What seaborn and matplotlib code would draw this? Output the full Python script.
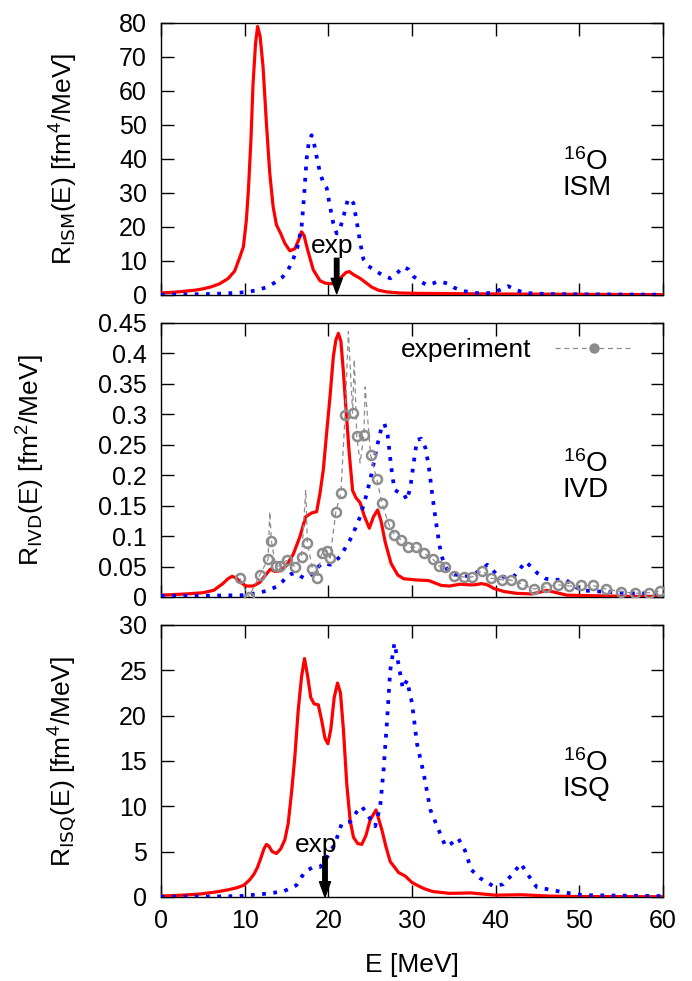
import numpy as np
import pandas as pd
import matplotlib
matplotlib.use("Agg")
import matplotlib.pyplot as plt
from matplotlib.lines import Line2D
from matplotlib.ticker import FuncFormatter, MultipleLocator
import seaborn as sns

# ---------------- data ----------------
# ISM panel
ism_red_E = [0, 2, 4, 5, 6, 7, 8, 8.8, 9.4, 9.85, 10.2, 10.45, 10.75, 11.0, 11.3, 11.55,
             11.85, 12.2, 12.6, 13.0, 13.4, 13.8, 14.3, 14.8, 15.4, 16.0, 16.5, 16.8, 17.1,
             17.5, 18.2, 19.0, 19.6, 20.4, 21.0, 21.6, 22.1, 22.5, 23.0, 23.8, 24.5, 25.2,
             26.0, 27.0, 28.5, 30, 35, 40, 50, 60]
ism_red_R = [0.6, 0.9, 1.4, 1.8, 2.4, 3.3, 4.8, 7.0, 11.0, 14.2, 22, 31, 45.6, 62, 74, 79,
             76, 67, 50.5, 35.8, 26, 20.6, 18.1, 15.2, 13.0, 13.6, 16.5, 18.6, 17.5,
             13.5, 7.4, 4.2, 3.5, 3.3, 3.8, 5.4, 6.6, 6.9, 6.0, 4.9, 3.6, 2.3,
             1.4, 0.9, 0.6, 0.5, 0.4, 0.3, 0.2, 0.1]
ism_blue_E = [0, 3, 6, 8, 10, 11.5, 12.5, 13.5, 14.5, 15.2, 15.8, 16.3, 16.8, 17.1, 17.4,
              17.7, 18.0, 18.3, 18.6, 19.0, 19.4, 19.8, 20.2, 20.6, 21.0, 21.4, 21.8, 22.3,
              22.6, 23.0, 23.4, 23.8, 24.2, 24.8, 25.5, 26.5, 27.4, 28.2, 29.0, 29.6, 30.2,
              31.0, 31.8, 32.5, 33.0, 33.6, 34.2, 35.0, 36.0, 38.0, 39.5, 40.5, 41.5, 42.3,
              43.5, 46, 50, 55, 60]
ism_blue_R = [0.1, 0.2, 0.3, 0.5, 0.8, 1.4, 2.2, 3.5, 5.2, 7.4, 10.5, 14, 20, 29, 40,
              45.5, 47, 44.5, 40.7, 36, 33, 31.5, 26, 21, 18.1, 19.5, 23, 27.8,
              28.4, 27, 21.5, 15.5, 10.5, 8.5, 7.3, 5.8, 4.9, 6.4, 8.3, 7.5, 5.4,
              4.0, 2.9, 3.4, 3.9, 3.8, 3.4, 2.2, 1.2, 0.5, 0.6, 1.5, 2.6, 1.6,
              0.6, 0.3, 0.2, 0.15, 0.1]

# IVD panel
ivd_red_E = [0, 3, 5, 6.3, 7.4, 8.0, 8.5, 9.0, 9.5, 10.2, 11.0, 11.8, 12.5, 13.1, 13.6,
             14.3, 15.0, 15.8, 16.6, 17.3, 18.0, 18.6, 19.0, 19.4, 19.8, 20.2, 20.6, 20.9,
             21.2, 21.5, 21.8, 22.1, 22.5, 22.9, 23.3, 23.8, 24.3, 24.9, 25.4, 25.9, 26.3,
             26.8, 27.5, 28.3, 29.0, 30.5, 32.0, 33.5, 34.5, 35.7, 36.8, 37.5, 38.3, 39.0,
             39.8, 41.0, 42.5, 44.3, 45.3, 46.1, 47.0, 48.5, 52, 56, 60]
ivd_red_R = [0.003, 0.005, 0.007, 0.011, 0.022, 0.030, 0.034, 0.031, 0.024, 0.018, 0.018,
             0.024, 0.036, 0.046, 0.042, 0.043, 0.052, 0.070, 0.099, 0.132, 0.138, 0.140,
             0.170, 0.209, 0.270, 0.329, 0.395, 0.422, 0.433, 0.420, 0.370, 0.310, 0.236,
             0.175, 0.163, 0.155, 0.133, 0.113, 0.132, 0.143, 0.125, 0.090, 0.055, 0.036,
             0.030, 0.028, 0.027, 0.019, 0.018, 0.021, 0.020, 0.020, 0.022, 0.020, 0.014,
             0.009, 0.006, 0.005, 0.008, 0.011, 0.008, 0.003, 0.002, 0.001, 0.001]
ivd_blue_E = [0, 5, 9.8, 11.8, 13.0, 13.8, 14.5, 15.0, 15.6, 16.2, 16.7, 17.1, 17.6, 18.2,
              18.7, 19.2, 19.7, 20.2, 20.7, 21.4, 22.0, 22.6, 23.2, 23.8, 24.4, 25.0, 25.5,
              25.9, 26.3, 26.7, 27.1, 27.5, 27.9, 28.4, 29.0, 29.4, 29.8, 30.2, 30.6, 31.1,
              31.6, 32.0, 32.5, 33.0, 33.5, 34.2, 35.0, 36.1, 37.3, 38.3, 39.0, 39.6, 40.3,
              41.2, 42.2, 43.0, 43.6, 44.2, 45.0, 46.0, 47.0, 48.3, 49.2, 50.2, 52.5, 56.5, 60]
ivd_blue_R = [0.002, 0.002, 0.003, 0.007, 0.012, 0.017, 0.025, 0.033, 0.038, 0.039,
              0.034, 0.031, 0.033, 0.039, 0.048, 0.055, 0.055, 0.053, 0.058, 0.066,
              0.080, 0.094, 0.112, 0.132, 0.160, 0.192, 0.225, 0.252, 0.275, 0.285,
              0.265, 0.215, 0.176, 0.172, 0.170, 0.159, 0.180, 0.220, 0.258, 0.260,
              0.245, 0.215, 0.160, 0.110, 0.068, 0.045, 0.038, 0.033, 0.037, 0.045,
              0.053, 0.045, 0.034, 0.033, 0.034, 0.048, 0.058, 0.050, 0.039, 0.030,
              0.028, 0.029, 0.020, 0.011, 0.009, 0.006, 0.006]

# experiment: measured points (circles) and extra fine-resolution points (spikes of the dashed line)
exp_pts_E = [9.4, 10.5, 11.8, 12.8, 13.2, 13.7, 14.2, 15.0, 16.0, 16.8, 17.5, 18.1, 18.7,
             19.2, 19.8, 20.2, 20.9, 21.5, 22.0, 22.9, 23.4, 24.25, 25.05, 25.8, 26.4,
             27.2, 27.9, 28.7, 29.5, 30.5, 31.4, 32.5, 33.2, 34.0, 35.0, 36.2, 37.2,
             38.4, 39.4, 40.8, 41.8, 43.2, 44.6, 46.0, 47.4, 48.8, 50.2, 51.6, 53.2,
             55.0, 56.6, 58.3, 59.7]
exp_pts_R = [0.031, 0.000, 0.036, 0.062, 0.092, 0.051, 0.051, 0.060, 0.050, 0.066, 0.089,
             0.046, 0.032, 0.072, 0.076, 0.064, 0.140, 0.171, 0.299, 0.302, 0.264, 0.266,
             0.233, 0.193, 0.155, 0.120, 0.102, 0.094, 0.082, 0.082, 0.072, 0.062, 0.051,
             0.050, 0.034, 0.033, 0.033, 0.043, 0.031, 0.028, 0.028, 0.021, 0.013, 0.017,
             0.020, 0.018, 0.019, 0.019, 0.013, 0.009, 0.006, 0.007, 0.010]
exp_fine_E = [13.0, 17.3, 22.4, 23.1, 23.8, 24.4]
exp_fine_R = [0.140, 0.176, 0.436, 0.390, 0.220, 0.345]

# ISQ panel
isq_red_E = [0, 2.5, 4.7, 6.5, 7.9, 9.0, 9.9, 10.6, 11.1, 11.5, 11.9, 12.3, 12.6, 12.9,
             13.3, 13.8, 14.3, 14.8, 15.2, 15.6, 16.0, 16.4, 16.8, 17.15, 17.5, 17.9, 18.3,
             18.8, 19.2, 19.6, 19.95, 20.3, 20.7, 21.1, 21.45, 21.8, 22.2, 22.6, 23.0, 23.5,
             24.0, 24.5, 25.0, 25.7, 26.4, 26.9, 27.4, 28.4, 29.2, 30.0, 30.6, 31.5, 32.5,
             34.5, 37.0, 40.0, 43.0, 46.5, 50, 60]
isq_red_R = [0.1, 0.2, 0.33, 0.55, 0.77, 1.0, 1.3, 1.9, 2.5, 3.2, 4.2, 5.3, 5.8, 5.6,
             5.0, 4.8, 5.3, 6.3, 8.1, 11.5, 15.5, 20.6, 24.3, 26.3, 24.5, 22.0, 21.3,
             21.2, 19.5, 17.5, 16.9, 18.5, 22.0, 23.6, 22.5, 18.5, 12.5, 8.5, 6.6, 5.9,
             5.8, 6.8, 8.5, 9.6, 7.4, 5.5, 3.9, 2.7, 2.3, 1.6, 1.3, 0.9, 0.6,
             0.4, 0.45, 0.2, 0.25, 0.1, 0.05, 0.03]
isq_blue_E = [0, 4.7, 9.4, 12.2, 14.6, 16.2, 17.2, 18.2, 19.0, 19.8, 20.8, 21.6, 22.6, 23.4,
              24.0, 24.8, 25.6, 26.2, 26.6, 27.0, 27.4, 27.9, 28.4, 28.9, 29.4, 30.0, 30.6,
              31.4, 32.2, 33.0, 34.0, 34.7, 35.5, 36.3, 37.1, 38.1, 39.7, 40.9, 42.1, 43.0,
              43.9, 44.9, 46.5, 48.9, 50.5, 60]
isq_blue_R = [0.04, 0.04, 0.1, 0.33, 0.6, 1.3, 2.8, 3.3, 3.3, 4.3, 5.9, 8.1, 8.3, 9.4,
              10.0, 8.9, 7.8, 10.0, 14.0, 19.2, 25.0, 28.0, 25.6, 23.0, 23.9, 21.4, 16.9,
              13.6, 9.6, 7.8, 5.6, 5.9, 6.5, 5.2, 3.0, 2.1, 1.2, 1.4, 2.6, 3.7,
              2.4, 1.1, 0.8, 0.4, 0.2, 0.1]

panel_ylabels = [r"R$_{\rm ISM}$(E) [fm$^{4}$/MeV]",
                 r"R$_{\rm IVD}$(E) [fm$^{2}$/MeV]",
                 r"R$_{\rm ISQ}$(E) [fm$^{4}$/MeV]"]
panel_names = ["ISM", "IVD", "ISQ"]
ylims = [(0, 80), (0, 0.45), (0, 30)]
ysteps = [10, 0.05, 5]
xticks = [0, 10, 20, 30, 40, 50, 60]
exp_arrows = {0: (21.0, 10.8, 0.4, 20.5, 12.3), 2: (19.6, 4.45, 0.0, 18.5, 5.0)}
nucleus_label_pos = [(48.0, 29.4), (48.0, 0.165), (48.0, 11.1)]

# ---------------- style ----------------
sns.set_theme(style="ticks")
plt.rcParams["font.family"] = ["Liberation Sans", "DejaVu Sans"]
plt.rcParams["mathtext.default"] = "regular"
plt.rcParams["axes.linewidth"] = 1.0
for key in ["text.color", "axes.labelcolor", "xtick.color", "ytick.color",
            "xtick.labelcolor", "ytick.labelcolor", "axes.edgecolor"]:
    plt.rcParams[key] = "black"

RED = "#ff0000"
BLUE = "#0000ff"
GREY = "#8c8c8c"

fig = plt.figure(figsize=(6.92, 9.81), dpi=100)
W, H = 692.0, 981.0
left_px, right_px = 161, 663
panel_px = [(23, 295), (323, 597), (625, 897)]
axes = []
for top, bot in panel_px:
    ax = fig.add_axes([left_px / W, 1 - bot / H, (right_px - left_px) / W, (bot - top) / H])
    axes.append(ax)

red_sets = [(ism_red_E, ism_red_R), (ivd_red_E, ivd_red_R), (isq_red_E, isq_red_R)]
blue_sets = [(ism_blue_E, ism_blue_R), (ivd_blue_E, ivd_blue_R), (isq_blue_E, isq_blue_R)]

fmt = FuncFormatter(lambda v, p: f"{v:g}")

for i, ax in enumerate(axes):
    rE, rR = red_sets[i]
    bE, bR = blue_sets[i]
    sns.lineplot(x=rE, y=rR, ax=ax, color=RED, lw=2.3, sort=False, zorder=3)
    sns.lineplot(x=bE, y=bR, ax=ax, color=BLUE, lw=2.7, sort=False,
                 linestyle=(0, (1.0, 2.0)), zorder=4)
    if i == 1:
        line_df = pd.DataFrame({"E": exp_pts_E + exp_fine_E, "R": exp_pts_R + exp_fine_R})
        line_df = line_df.sort_values("E")
        sns.lineplot(data=line_df, x="E", y="R", ax=ax, color=GREY, lw=0.9,
                     linestyle=(0, (4, 3)), sort=False, zorder=5)
        sns.lineplot(x=exp_pts_E, y=exp_pts_R, ax=ax, color=GREY, linestyle="none",
                     marker="o", ms=6.5, mfc="none", mec=GREY, mew=1.8, sort=False, zorder=6)
        handle = Line2D([], [], color=GREY, lw=0.9, linestyle=(0, (4, 3)), marker="o",
                        ms=6.5, mfc=GREY, mec=GREY)
        ax.legend([handle], ["experiment"], loc="center right",
                  bbox_to_anchor=((632 - 161) / 502, 1 - 27 / 274),
                  frameon=False, markerfirst=False, fontsize=19, handlelength=2.9,
                  handletextpad=0.9, borderaxespad=0, borderpad=0, labelcolor="black")

    ax.set_xlim(0, 60)
    ax.set_ylim(*ylims[i])
    ax.set_xticks(xticks)
    ax.yaxis.set_major_locator(MultipleLocator(ysteps[i]))
    ax.yaxis.set_major_formatter(fmt)
    ax.xaxis.set_major_formatter(fmt)
    ax.tick_params(direction="in", length=9, width=1, top=True, right=True,
                   labelsize=18, color="black", labelcolor="black")
    ax.tick_params(axis="y", pad=10)
    ax.tick_params(axis="x", pad=9)
    ax.set_xlabel("")
    if i < 2:
        ax.tick_params(labelbottom=False)
    for s in ax.spines.values():
        s.set_color("black")
        s.set_linewidth(1.0)

    ax.set_ylabel(panel_ylabels[i], fontsize=19, color="black")
    ax.yaxis.set_label_coords(-0.227 if i == 1 else -0.161, 0.5)

    # nucleus label (two lines in one text)
    lx, ly = nucleus_label_pos[i]
    ax.text(lx, ly, r"$^{16}$O" + "\n" + panel_names[i], fontsize=20, ha="left",
            va="baseline", linespacing=0.95, multialignment="left", color="black")

    if i in exp_arrows:
        ex, ytop, ytip, tx, ty = exp_arrows[i]
        ax.annotate("", xy=(ex, ytip), xytext=(ex, ytop),
                    arrowprops=dict(facecolor="black", edgecolor="black", width=3.2,
                                    headwidth=8, headlength=11, shrink=0), zorder=7)
        ax.text(tx, ty, "exp", fontsize=19, ha="center", va="baseline", zorder=8,
                color="black")

axes[2].set_xlabel("E [MeV]", fontsize=19, color="black")
axes[2].xaxis.set_label_coords(0.5, -0.205)

fig.savefig("out.png", dpi=100)
